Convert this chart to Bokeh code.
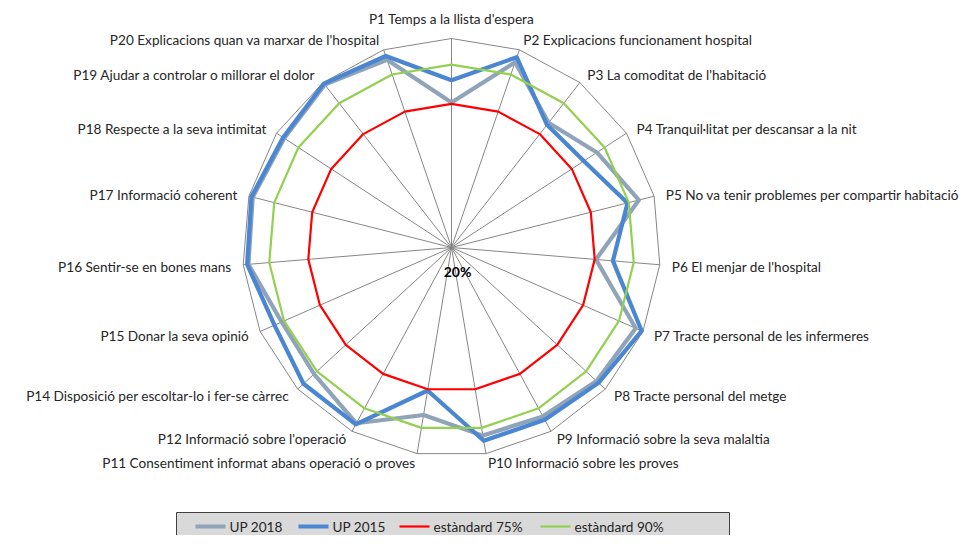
import numpy as np
from bokeh.plotting import figure
from bokeh.models import Range1d, ColumnDataSource
from bokeh.embed import file_html
from bokeh.resources import INLINE
from bokeh.core.properties import value

# ---------------- data ----------------
questions = [
    "P1 Temps a la llista d'espera",
    "P2 Explicacions funcionament hospital",
    "P3 La comoditat de l'habitació",
    "P4 Tranquil·litat per descansar a la nit",
    "P5 No va tenir problemes per compartir habitació",
    "P6 El menjar de l'hospital",
    "P7 Tracte personal de les infermeres",
    "P8 Tracte personal del metge",
    "P9 Informació sobre la seva malaltia",
    "P10 Informació sobre les proves",
    "P11 Consentiment informat abans operació o proves",
    "P12 Informació sobre l'operació",
    "P14 Disposició per escoltar-lo i fer-se càrrec",
    "P15 Donar la seva opinió",
    "P16 Sentir-se en bones mans",
    "P17 Informació coherent",
    "P18 Respecte a la seva intimitat",
    "P19 Ajudar a controlar o millorar el dolor",
    "P20 Explicacions quan va marxar de l'hospital",
]
up2018 = [75.5, 95.0, 80.5, 86.5, 94.0, 75.5, 97.0, 95.5, 93.5, 93.0,
          85.0, 96.5, 91.5, 91.0, 98.0, 98.5, 96.5, 99.0, 96.0]
up2015 = [84.0, 97.0, 79.5, 80.5, 89.5, 82.0, 99.5, 96.5, 95.0, 95.0,
          75.5, 97.0, 97.0, 94.0, 98.5, 99.0, 97.0, 99.5, 97.5]
std75 = [75, 75, 75, 75, 75, 75, 75, 75, 75, 75,
         75, 75, 75, 75, 75, 75, 75, 75, 75]
std90 = [90, 90, 90, 90, 90, 90, 90, 90, 90, 90,
         90, 90, 90, 90, 90, 90, 90, 90, 90]
series_names = ["UP 2018", "UP 2015", "estàndard 75%", "estàndard 90%"]
axis_min, axis_max = 20, 100
center_tick = "20%"

# ---------------- layout / style ----------------
W, H = 962, 535
CX, CY = 451, 247          # centre of the radar in figure pixels (from top-left)
R = 209                    # outer radius in pixels
FONT = "Lato"
FS = "13.6px"
TXT = "#262626"
GRID = "#868686"
colors = ["#8FA3B9", "#4A86D2", "#FF0000", "#92D050"]
widths = [4.2, 4.2, 2.2, 2.2]

p = figure(width=W, height=H, output_backend="svg", toolbar_location=None,
           x_range=Range1d(-CX, W - CX), y_range=Range1d(-(H - CY), CY),
           min_border=0, outline_line_color=None)
p.axis.visible = False
p.grid.visible = False
p.background_fill_color = "white"
p.border_fill_color = "white"

n = len(questions)
theta = np.arange(n) * 2 * np.pi / n
sx, cy_ = np.sin(theta), np.cos(theta)


def radius(v):
    return (np.asarray(v, dtype=float) - axis_min) / (axis_max - axis_min) * R


# spokes and outer ring
ox, oy = R * sx, R * cy_
p.segment(x0=np.zeros(n), y0=np.zeros(n), x1=ox, y1=oy, line_color=GRID, line_width=1)
p.line(np.append(ox, ox[0]), np.append(oy, oy[0]), line_color=GRID, line_width=1)

# data series
for vals, col, lw in zip([up2018, up2015, std75, std90], colors, widths):
    r = radius(vals)
    xs, ys = r * sx, r * cy_
    p.line(np.append(xs, xs[0]), np.append(ys, ys[0]), line_color=col,
           line_width=lw, line_join="round")

# centre tick label
p.text(x=[0], y=[0], text=[center_tick], x_offset=6, y_offset=24,
       text_font=value(FONT), text_font_size="14px", text_font_style="bold",
       text_align="center", text_baseline="middle", text_color="black")

# category labels
RL = R + 12
lx, ly = RL * sx, RL * cy_
aligns, baselines, yoff = [], [], []
for k in range(n):
    if k == 0:
        aligns.append("center"); baselines.append("bottom"); yoff.append(0)
    else:
        aligns.append("left" if sx[k] > 0 else "right")
        baselines.append("middle")
        yoff.append(2 + 5 * min(cy_[k], 0))
src = ColumnDataSource(dict(x=lx, y=ly, t=questions, a=aligns, b=baselines, yo=yoff))
p.text(x="x", y="y", text="t", text_align="a", text_baseline="b", y_offset="yo",
       source=src, text_font=value(FONT), text_font_size=FS, text_color=TXT)


# legend (drawn by hand, Excel style, cut off at bottom)
def fx(px):
    return px - CX


def fy(py):
    return CY - py


box_l, box_r, box_t = 176, 729, 512
p.quad(left=[fx(box_l)], right=[fx(box_r)], top=[fy(box_t)], bottom=[fy(box_t + 40)],
       fill_color="#D9D9D9", line_color="#404040", line_width=1)
leg_y = 526
sw_x = [195, 298, 399, 540]
for name, col, lw, x0 in zip(series_names, colors, widths, sw_x):
    p.line([fx(x0), fx(x0 + 30)], [fy(leg_y), fy(leg_y)], line_color=col,
           line_width=lw if lw < 3 else 4)
    p.text(x=[fx(x0 + 34)], y=[fy(leg_y)], text=[name], text_font=value(FONT),
           text_font_size=FS, text_align="left", text_baseline="middle",
           text_color=TXT)

open("out.html", "w").write(file_html(p, INLINE))
